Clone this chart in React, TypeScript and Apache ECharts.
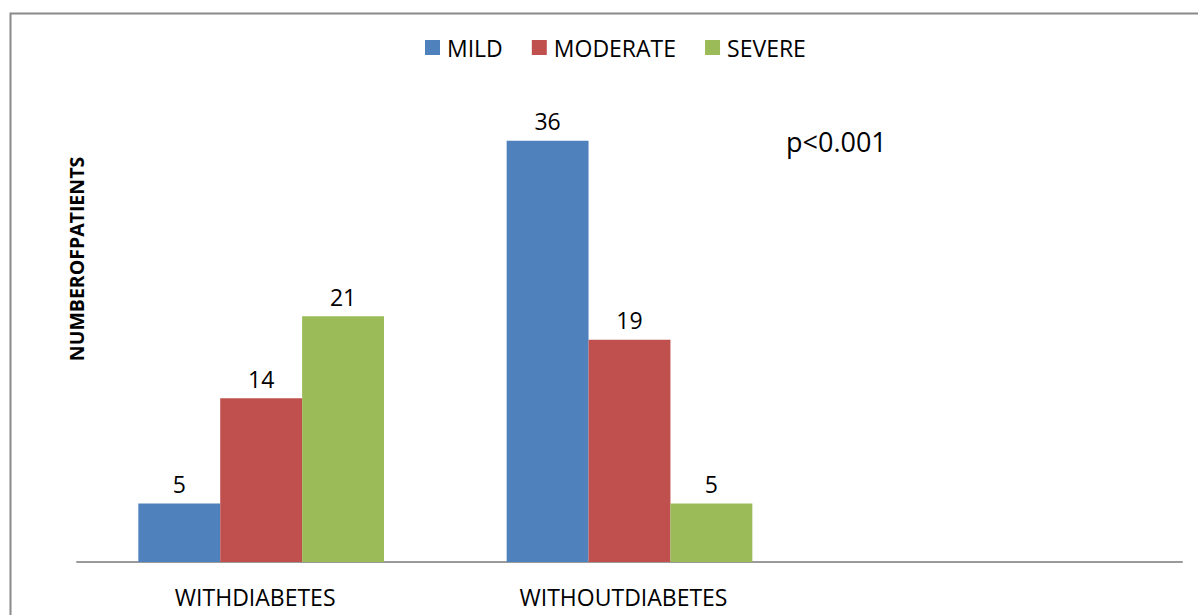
import React, { useEffect, useRef } from "react";
import * as echarts from "echarts";

// Patient counts by severity, split by diabetes status
const categories = ["WITHDIABETES", "WITHOUTDIABETES", ""];
const mild = [5, 36, null];
const moderate = [14, 19, null];
const severe = [21, 5, null];
const seriesNames = ["MILD", "MODERATE", "SEVERE"];
const seriesColors = ["#4F81BD", "#C0504D", "#9BBB59"];
const yAxisTitle = "NUMBEROFPATIENTS";
const note = "p<0.001";

const FONT = "'Open Sans', 'Liberation Sans', sans-serif";

export default function App() {
  const ref = useRef<HTMLDivElement>(null);

  useEffect(() => {
    if (!ref.current) return;
    const chart = echarts.init(ref.current, undefined, { renderer: "svg" });
    const values = [mild, moderate, severe];
    chart.setOption({
      animation: false,
      backgroundColor: "#ffffff",
      textStyle: { fontFamily: FONT, color: "#000" },
      legend: {
        left: 425,
        top: 36,
        padding: 0,
        itemWidth: 15,
        itemHeight: 15,
        itemGap: 29,
        icon: "rect",
        textStyle: { fontFamily: FONT, fontSize: 23, color: "#000", padding: [0, 0, 0, 2] },
        data: seriesNames,
      },
      grid: { left: 77, right: 16, top: 94, bottom: 53, containLabel: false },
      xAxis: {
        type: "category",
        data: categories,
        axisLine: { show: true, lineStyle: { color: "#9a9a9a", width: 2 } },
        axisTick: { show: false },
        axisLabel: {
          fontFamily: FONT,
          fontSize: 23,
          color: "#000",
          margin: 23,
          interval: 0,
          padding: [0, 12, 0, 0],
        },
        splitLine: { show: false },
      },
      yAxis: {
        type: "value",
        min: 0,
        max: 40,
        interval: 5,
        axisLine: { show: false },
        axisTick: { show: false },
        axisLabel: { show: false },
        splitLine: { show: false },
      },
      series: seriesNames.map((name, i) => ({
        name,
        type: "bar",
        data: values[i],
        barGap: "0%",
        barCategoryGap: "33.3%",
        itemStyle: { color: seriesColors[i] },
        label: {
          show: true,
          position: "top",
          distance: 8,
          fontFamily: FONT,
          fontSize: 23,
          color: "#000",
        },
      })),
      graphic: [
        {
          type: "rect",
          left: 8,
          top: 11,
          shape: { x: 0, y: 0, width: 1200, height: 620 },
          style: { fill: "none", stroke: "#8a8a8a", lineWidth: 2 },
          silent: true,
          z: -1,
        },
        {
          type: "text",
          x: 76,
          y: 259,
          rotation: Math.PI / 2,
          style: {
            text: yAxisTitle,
            fontFamily: FONT,
            fontSize: 19.5,
            fontWeight: "bold",
            fill: "#000",
            align: "center",
            verticalAlign: "middle",
          },
        },
        {
          type: "text",
          x: 786,
          y: 141,
          style: {
            text: note,
            fontFamily: FONT,
            fontSize: 27,
            fill: "#000",
            verticalAlign: "middle",
          },
        },
      ],
    });
    return () => chart.dispose();
  }, []);

  return (
    <div
      ref={ref}
      style={{ position: "fixed", left: 0, top: 0, width: 1198, height: 615 }}
    />
  );
}
